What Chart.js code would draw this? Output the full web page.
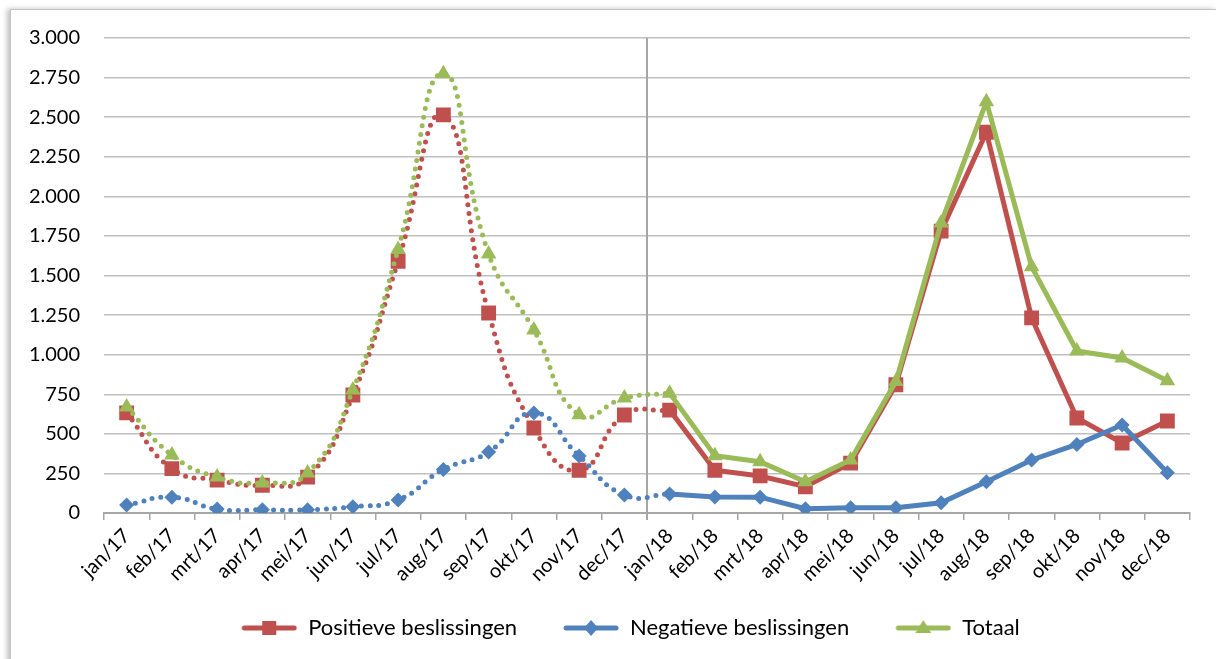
<!DOCTYPE html>
<html>
<head>
<meta charset="utf-8">
<script src="https://cdn.jsdelivr.net/npm/chart.js@4"></script>
<style>
    html, body { margin: 0; padding: 0; background: #fff; overflow: hidden; }
    #kader {
        position: absolute; left: 10px; top: 9px;
        width: 1205px; height: 680px;
        border: 1px solid #c4c4c4;
        box-shadow: -3px 0 5px rgba(0,0,0,0.25);
        background: #fff;
    }
</style>
</head>
<body>
<div id="kader"><canvas id="beslissingenChart"></canvas></div>
<script>
// ==================== DATA ====================
const maanden = ['jan/17','feb/17','mrt/17','apr/17','mei/17','jun/17','jul/17','aug/17','sep/17','okt/17','nov/17','dec/17',
                 'jan/18','feb/18','mrt/18','apr/18','mei/18','jun/18','jul/18','aug/18','sep/18','okt/18','nov/18','dec/18'];
const positief = [632, 280, 208, 175, 227, 745, 1590, 2514, 1263, 537, 270, 619,
                  650, 270, 234, 166, 315, 810, 1780, 2405, 1232, 600, 442, 581];
const negatief = [50, 100, 25, 20, 20, 40, 82, 275, 385, 632, 360, 114,
                  120, 101, 100, 27, 33, 33, 65, 197, 335, 433, 556, 255];
const totaal = [670, 366, 227, 190, 253, 777, 1665, 2775, 1636, 1156, 620, 726,
                757, 362, 324, 197, 335, 830, 1832, 2598, 1556, 1023, 979, 835];
const yTicks = [0, 250, 500, 750, 1000, 1250, 1500, 1750, 2000, 2250, 2500, 2750, 3000];

const ROOD = '#c0504d', BLAUW = '#4f81bd', GROEN = '#9bbb59';
const FONT = "Lato, 'Open Sans', sans-serif";

// 2017 = index 0..11 (gestippeld, tot en met jan/18), 2018 = index 12..23
function deel(arr, van, tot) {
    return arr.map((v, i) => (i >= van && i <= tot) ? v : null);
}

function fmt(v) {
    return String(v).replace(/\B(?=(\d{3})+(?!\d))/g, '.');
}

function reeks(label, arr, kleur, stijl, radius, order) {
    return [{
        label: label + ' 2018',
        data: deel(arr, 12, 23),
        borderColor: kleur,
        backgroundColor: kleur,
        borderWidth: 5,
        tension: 0,
        pointStyle: stijl,
        pointRadius: ctx => ctx.dataIndex >= 12 ? radius : 0,
        pointBorderWidth: 0,
        order: order
    }, {
        label: label + ' 2017',
        data: deel(arr, 0, 12),
        borderColor: kleur,
        backgroundColor: kleur,
        borderWidth: 5,
        borderDash: [0, 8.8],
        borderCapStyle: 'round',
        tension: 0.5,
        pointStyle: stijl,
        pointRadius: ctx => ctx.dataIndex < 12 ? radius : 0,
        pointBorderWidth: 0,
        order: order + 1
    }];
}

// legenda-icoon: lege ruimte links (afstand tussen items) + lijn met marker
const ICOON_PAD = 36;
function icoon(kleur, stijl) {
    const c = document.createElement('canvas');
    c.width = ICOON_PAD + 56; c.height = 22;
    const g = c.getContext('2d');
    g.translate(ICOON_PAD, 0);
    g.strokeStyle = kleur; g.fillStyle = kleur;
    g.lineWidth = 5; g.lineCap = 'round';
    g.beginPath(); g.moveTo(3, 11); g.lineTo(53, 11); g.stroke();
    g.beginPath();
    if (stijl === 'rect') {
        g.rect(21, 4, 14, 14);
    } else if (stijl === 'rectRot') {
        g.moveTo(28, 3); g.lineTo(35, 11); g.lineTo(28, 19); g.lineTo(21, 11); g.closePath();
    } else {
        g.moveTo(28, 3); g.lineTo(36, 16); g.lineTo(20, 16); g.closePath();
    }
    g.fill();
    return c;
}

const scheidingslijn = {
    id: 'scheidingslijn',
    afterLayout(chart) {
        chart.legend.left += 12;
        chart.legend.right += 12;
    },
    beforeDatasetsDraw(chart) {
        const x = chart.scales.x;
        const px = (x.getPixelForValue(11) + x.getPixelForValue(12)) / 2;
        const ctx = chart.ctx;
        ctx.save();
        ctx.strokeStyle = '#a6a6a6';
        ctx.lineWidth = 2;
        ctx.beginPath();
        ctx.moveTo(px, chart.chartArea.top);
        ctx.lineTo(px, chart.chartArea.bottom + 7);
        ctx.stroke();
        ctx.restore();
    }
};

document.addEventListener('DOMContentLoaded', function() {
    const ctx = document.getElementById('beslissingenChart');

    new Chart(ctx, {
        type: 'line',
        data: {
            labels: maanden,
            datasets: [
                ...reeks('Totaal', totaal, GROEN, 'triangle', 9, 0),
                ...reeks('Negatieve beslissingen', negatief, BLAUW, 'rectRot', 7.5, 2),
                ...reeks('Positieve beslissingen', positief, ROOD, 'rect', 10.5, 4)
            ]
        },
        plugins: [scheidingslijn],
        options: {
            responsive: true,
            maintainAspectRatio: false,
            animation: false,
            spanGaps: false,
            layout: { padding: { top: 28, left: 0, right: 26, bottom: 41 } },
            plugins: {
                tooltip: { enabled: false },
                legend: {
                    position: 'bottom',
                    labels: {
                        usePointStyle: true,
                        pointStyleWidth: ICOON_PAD + 56,
                        padding: 10,
                        color: '#000',
                        font: { family: FONT, size: 22 },
                        generateLabels: function() {
                            return [
                                { text: 'Positieve beslissingen', pointStyle: icoon(ROOD, 'rect'), fontColor: '#000', lineWidth: 0, strokeStyle: 'transparent', fillStyle: ROOD },
                                { text: 'Negatieve beslissingen', pointStyle: icoon(BLAUW, 'rectRot'), fontColor: '#000', lineWidth: 0, strokeStyle: 'transparent', fillStyle: BLAUW },
                                { text: 'Totaal', pointStyle: icoon(GROEN, 'triangle'), fontColor: '#000', lineWidth: 0, strokeStyle: 'transparent', fillStyle: GROEN }
                            ];
                        }
                    }
                }
            },
            scales: {
                y: {
                    min: 0,
                    max: 3000,
                    afterFit: function(scale) { scale.width = 93; },
                    afterBuildTicks: function(scale) {
                        scale.ticks = yTicks.map(v => ({ value: v }));
                    },
                    border: { display: false },
                    grid: { color: '#c0c0c0', lineWidth: 1.5, drawTicks: true, tickLength: 24, tickColor: 'rgba(0,0,0,0)' },
                    ticks: {
                        padding: 0,
                        color: '#000',
                        font: { family: FONT, size: 20 },
                        callback: function(value) { return fmt(value); }
                    }
                },
                x: {
                    offset: true,
                    afterFit: function(scale) { scale.height = 94; },
                    border: { display: true, color: '#a6a6a6', width: 2 },
                    grid: {
                        offset: true,
                        drawOnChartArea: false,
                        drawTicks: true,
                        tickLength: 7,
                        color: '#a6a6a6',
                        lineWidth: 1.5
                    },
                    ticks: {
                        autoSkip: false,
                        minRotation: 45,
                        maxRotation: 45,
                        padding: 4,
                        color: '#000',
                        font: { family: FONT, size: 20 }
                    }
                }
            }
        }
    });
});
</script>
</body>
</html>
